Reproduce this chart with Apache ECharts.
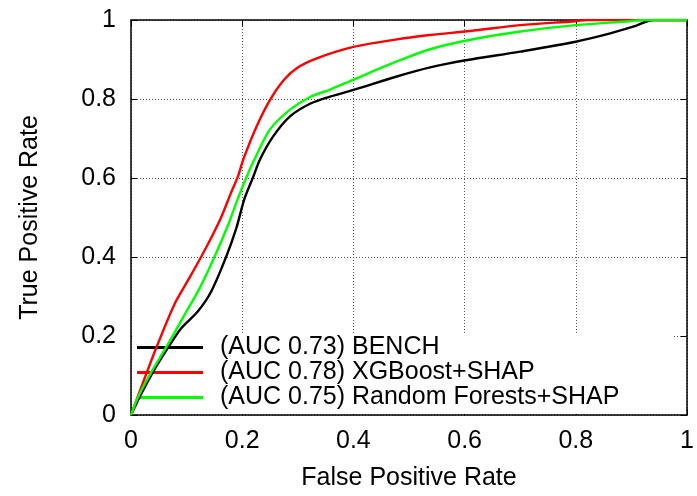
<!DOCTYPE html>
<html>
<head>
<meta charset="utf-8">
<script src="https://cdn.jsdelivr.net/npm/echarts@6/dist/echarts.min.js"></script>
<style>
html,body{margin:0;padding:0;background:#fff;}
#chart{width:697px;height:496px;}
</style>
</head>
<body>
<div id="chart"></div>
<script>
// ---- data ----
const seriesNames = ["(AUC 0.73) BENCH", "(AUC 0.78) XGBoost+SHAP", "(AUC 0.75) Random Forests+SHAP"];
const xTicks = [0, 0.2, 0.4, 0.6, 0.8, 1];
const yTicks = [0, 0.2, 0.4, 0.6, 0.8, 1];

const benchFpr = [0, 0.016, 0.040, 0.067, 0.090, 0.12, 0.144, 0.171, 0.189, 0.204, 0.219, 0.232, 0.256, 0.286, 0.322, 0.358, 0.40, 0.478, 0.538, 0.602, 0.70, 0.80, 0.862, 0.903, 0.94, 1.0];
const benchTpr = [0, 0.047, 0.110, 0.171, 0.219, 0.262, 0.312, 0.40, 0.471, 0.547, 0.600, 0.647, 0.706, 0.756, 0.788, 0.806, 0.823, 0.857, 0.880, 0.898, 0.920, 0.945, 0.966, 0.983, 1.0, 1.0];

const xgbFpr = [0, 0.025, 0.046, 0.078, 0.105, 0.126, 0.144, 0.162, 0.180, 0.192, 0.202, 0.226, 0.25, 0.274, 0.298, 0.334, 0.40, 0.478, 0.538, 0.61, 0.70, 0.80, 0.82, 1.0];
const xgbTpr = [0, 0.095, 0.172, 0.280, 0.347, 0.400, 0.448, 0.500, 0.563, 0.603, 0.647, 0.731, 0.798, 0.847, 0.878, 0.903, 0.932, 0.951, 0.962, 0.972, 0.987, 0.997, 1.0, 1.0];

const rfFpr = [0, 0.013, 0.037, 0.063, 0.096, 0.123, 0.150, 0.174, 0.192, 0.207, 0.223, 0.25, 0.286, 0.322, 0.358, 0.40, 0.478, 0.538, 0.61, 0.70, 0.80, 0.897, 0.92, 1.0];
const rfTpr = [0, 0.047, 0.110, 0.171, 0.253, 0.320, 0.400, 0.479, 0.547, 0.600, 0.650, 0.723, 0.773, 0.805, 0.824, 0.849, 0.895, 0.926, 0.950, 0.971, 0.987, 0.997, 1.0, 1.0];

const colors = ["#000000", "#ff0000", "#00ff00"];

// ---- build ----
function pairs(xs, ys) { return xs.map((x, i) => [x, ys[i]]); }
const FONT = "Liberation Sans, Arial, Helvetica, sans-serif";
const tickMin = xTicks[0], tickMax = xTicks[xTicks.length - 1];
const tickStep = xTicks[1] - xTicks[0];

const chart = echarts.init(document.getElementById('chart'), null, {renderer: 'canvas'});

const baseAxis = {
  type: 'value', min: tickMin, max: tickMax, interval: tickStep,
  axisLine: {show: true, onZero: false, lineStyle: {color: '#000', width: 1.5}},
  axisTick: {show: true, inside: true, length: 6, lineStyle: {color: '#000', width: 1}},
  splitLine: {show: false},
  axisLabel: {show: false}
};

const option = {
  backgroundColor: '#fff',
  animation: false,
  textStyle: {fontFamily: FONT},
  grid: {left: 131, right: 10, top: 20, bottom: 79, containLabel: false},
  legend: {
    orient: 'vertical', left: 132, top: 335, z: 1,
    backgroundColor: '#fff',
    padding: [0, 53, 4, 5],
    itemWidth: 66, itemHeight: 3, itemGap: 0,
    icon: 'rect',
    textStyle: {fontFamily: FONT, fontSize: 25, lineHeight: 25, color: '#000', padding: [0, 0, 0, 12]},
    data: seriesNames
  },
  xAxis: [
    Object.assign({}, baseAxis, {
      position: 'bottom',
      name: 'False Positive Rate', nameLocation: 'middle', nameGap: 51,
      nameTextStyle: {fontFamily: FONT, fontSize: 25, color: '#000'},
      axisLabel: {show: true, margin: 14, fontFamily: FONT, fontSize: 25, color: '#000'},
      splitLine: {show: true, lineStyle: {color: '#555', width: 1, type: [1, 2]}}
    }),
    Object.assign({}, baseAxis, {position: 'top'})
  ],
  yAxis: [
    Object.assign({}, baseAxis, {
      position: 'left',
      name: 'True Positive Rate', nameLocation: 'middle', nameGap: 88,
      nameTextStyle: {fontFamily: FONT, fontSize: 25, color: '#000'},
      axisLabel: {show: true, margin: 15, fontFamily: FONT, fontSize: 25, color: '#000'},
      splitLine: {show: true, lineStyle: {color: '#555', width: 1, type: [1, 2]}}
    }),
    Object.assign({}, baseAxis, {position: 'right'})
  ],
  series: [
    {name: seriesNames[0], data: pairs(benchFpr, benchTpr), color: colors[0]},
    {name: seriesNames[1], data: pairs(xgbFpr, xgbTpr), color: colors[1]},
    {name: seriesNames[2], data: pairs(rfFpr, rfTpr), color: colors[2]}
  ].map(s => ({
    type: 'line', name: s.name, data: s.data, z: 3,
    xAxisIndex: 0, yAxisIndex: 0,
    showSymbol: false, symbol: 'none',
    smooth: 0.3,
    clip: true,
    itemStyle: {color: s.color},
    lineStyle: {color: s.color, width: 2.4}
  }))
};
chart.setOption(option);
</script>
</body>
</html>
